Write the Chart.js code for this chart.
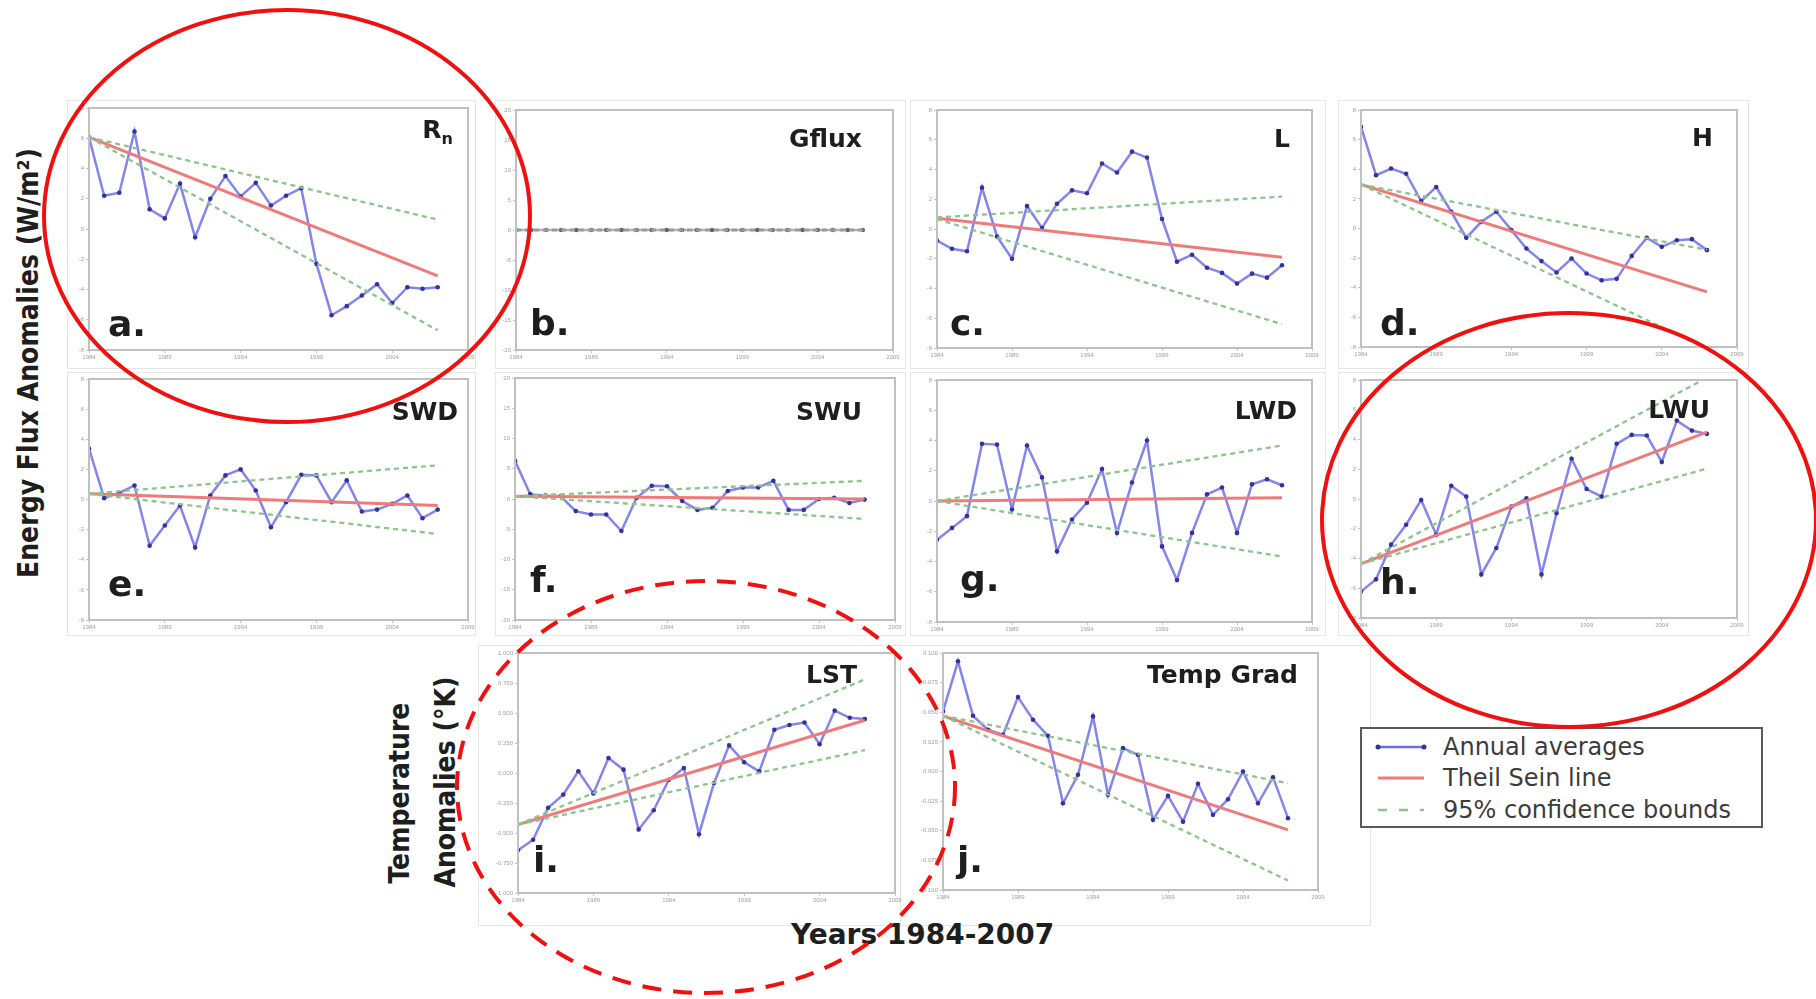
<!DOCTYPE html>
<html>
<head>
<meta charset="utf-8">
<script src="https://cdn.jsdelivr.net/npm/chart.js@4.4.1/dist/chart.umd.min.js"></script>
<style>
body { margin:0; width:1816px; height:999px; background:#fff; position:relative; overflow:hidden; font-family:"DejaVu Sans", sans-serif; }
canvas { position:absolute; }
.frame { position:absolute; border:1px solid #e6e6e6; }
.ttl { position:absolute; width:300px; text-align:right; font-weight:bold; font-size:25px; line-height:25px; color:#1e1e1e; white-space:nowrap; }
.ttl sub { font-size:16px; vertical-align:-6px; line-height:0; }
.let { position:absolute; font-weight:bold; font-size:36px; line-height:36px; color:#1e1e1e; }
.rot { position:absolute; transform:translate(-50%,-50%) rotate(-90deg); font-family:"DejaVu Sans Condensed","DejaVu Sans",sans-serif; font-weight:bold; font-size:28px; line-height:28px; white-space:nowrap; color:#1e1e1e; }
.xlab { position:absolute; font-weight:bold; font-size:28px; line-height:28px; color:#1e1e1e; white-space:nowrap; }
#legend { position:absolute; left:1360px; top:727px; width:399px; height:97px; border:2px solid #5a5a5a; background:#fff; }
#legend .row { position:absolute; left:0; height:30px; font-size:24px; line-height:30px; color:#3c3c3c; white-space:nowrap; }
#legend svg { position:absolute; left:12px; top:0; }
#legend span { position:absolute; left:81px; top:0; }
#marks { position:absolute; left:0; top:0; pointer-events:none; }
</style>
</head>
<body>

<div class="frame" style="left:67px;top:100px;width:407px;height:267px"></div>
<div class="frame" style="left:495px;top:100px;width:409px;height:267px"></div>
<div class="frame" style="left:910px;top:100px;width:414px;height:267px"></div>
<div class="frame" style="left:1338px;top:100px;width:409px;height:267px"></div>
<div class="frame" style="left:67px;top:372px;width:407px;height:262px"></div>
<div class="frame" style="left:495px;top:372px;width:409px;height:262px"></div>
<div class="frame" style="left:910px;top:372px;width:414px;height:262px"></div>
<div class="frame" style="left:1338px;top:372px;width:409px;height:262px"></div>
<div class="frame" style="left:478px;top:645px;width:421px;height:279px"></div>
<div class="frame" style="left:900px;top:645px;width:469px;height:279px"></div>

<div id="charts"></div>

<div class="ttl" style="left:153px;top:117px">R<sub>n</sub></div>
<div class="ttl" style="left:562px;top:126px">Gflux</div>
<div class="ttl" style="left:990px;top:126px">L</div>
<div class="ttl" style="left:1413px;top:125px">H</div>
<div class="ttl" style="left:158px;top:399px">SWD</div>
<div class="ttl" style="left:562px;top:399px">SWU</div>
<div class="ttl" style="left:997px;top:398px">LWD</div>
<div class="ttl" style="left:1410px;top:397px">LWU</div>
<div class="ttl" style="left:557px;top:662px">LST</div>
<div class="ttl" style="left:998px;top:662px">Temp Grad</div>

<div class="let" style="left:108px;top:306px">a.</div>
<div class="let" style="left:530px;top:305px">b.</div>
<div class="let" style="left:950px;top:305px">c.</div>
<div class="let" style="left:1380px;top:305px">d.</div>
<div class="let" style="left:108px;top:566px">e.</div>
<div class="let" style="left:530px;top:562px">f.</div>
<div class="let" style="left:960px;top:561px">g.</div>
<div class="let" style="left:1380px;top:564px">h.</div>
<div class="let" style="left:533px;top:842px">i.</div>
<div class="let" style="left:957px;top:842px">j.</div>

<div class="rot" style="left:29px;top:363px">Energy Flux Anomalies (W/m²)</div>
<div class="rot" style="left:400px;top:793px">Temperature</div>
<div class="rot" style="left:446px;top:782px">Anomalies (°K)</div>
<div class="xlab" style="left:791px;top:921px">Years 1984-2007</div>

<div id="legend">
  <div class="row" style="top:3px">
    <svg width="60" height="30"><line x1="4" y1="15" x2="50" y2="15" stroke="#6d6de6" stroke-width="2.5"/><circle cx="4" cy="15" r="2.5" fill="#33339a"/><circle cx="50" cy="15" r="2.5" fill="#33339a"/></svg>
    <span>Annual averages</span>
  </div>
  <div class="row" style="top:34px">
    <svg width="60" height="30"><line x1="4" y1="15" x2="50" y2="15" stroke="#f07a7a" stroke-width="3"/></svg>
    <span>Theil Sein line</span>
  </div>
  <div class="row" style="top:66px">
    <svg width="60" height="30"><line x1="4" y1="15" x2="50" y2="15" stroke="#8cc48c" stroke-width="2.5" stroke-dasharray="9,12"/></svg>
    <span>95% confidence bounds</span>
  </div>
</div>

<svg id="marks" width="1816" height="999">
  <ellipse cx="287" cy="216" rx="243" ry="206" fill="none" stroke="#f01010" stroke-width="4"/>
  <ellipse cx="1569" cy="520" rx="247" ry="207" fill="none" stroke="#f01010" stroke-width="4"/>
  <ellipse cx="706" cy="787" rx="249" ry="206" fill="none" stroke="#f01010" stroke-width="4" stroke-dasharray="19,12"/>
</svg>

<script>
// years and tick labels
const years = [1984, 1985, 1986, 1987, 1988, 1989, 1990, 1991, 1992, 1993, 1994, 1995,
               1996, 1997, 1998, 1999, 2000, 2001, 2002, 2003, 2004, 2005, 2006, 2007];
const yearTicks = [1984, 1989, 1994, 1999, 2004, 2009];
const fitYears = [1984, 2007];
const fluxTicks = [-8, -6, -4, -2, 0, 2, 4, 6, 8];
const wideFluxTicks = [-20, -15, -10, -5, 0, 5, 10, 15, 20];
const lstTicks = [-1, -0.75, -0.5, -0.25, 0, 0.25, 0.5, 0.75, 1];
const gradTicks = [-0.1, -0.075, -0.05, -0.025, 0, 0.025, 0.05, 0.075, 0.1];

// a. Rn
const rnAvg = [6.07, 2.2, 2.4, 6.45, 1.3, 0.7, 3.0, -0.55, 2.0, 3.5, 2.15, 3.05,
               1.55, 2.2, 2.7, -2.3, -5.7, -5.1, -4.4, -3.65, -4.9, -3.85, -3.95, -3.85];
const rnTheil = [6.07, -3.1];
const rnUpper = [6.07, 0.62];
const rnLower = [6.07, -6.7];

// b. Gflux
const gfluxAvg = [0, 0, 0, 0, 0, 0, 0, 0, 0, 0, 0, 0, 0, 0, 0, 0, 0, 0, 0, 0, 0, 0, 0, 0];
const gfluxTheil = [0, 0];
const gfluxUpper = [0, 0];
const gfluxLower = [0, 0];

// c. L
const lAvg = [-0.78, -1.33, -1.5, 2.78, -0.5, -2.0, 1.55, 0.07, 1.7, 2.6, 2.4, 4.4,
              3.8, 5.2, 4.8, 0.67, -2.2, -1.73, -2.6, -2.95, -3.67, -3.0, -3.27, -2.44];
const lTheil = [0.73, -1.9];
const lUpper = [0.78, 2.18];
const lLower = [0.67, -6.4];

// d. H
const hAvg = [6.87, 3.6, 4.05, 3.7, 1.85, 2.8, 1.13, -0.63, 0.45, 1.13, -0.11, -1.35,
              -2.2, -2.97, -2.03, -3.04, -3.5, -3.4, -1.85, -0.63, -1.24, -0.79, -0.72, -1.46];
const hTheil = [2.97, -4.28];
const hUpper = [2.97, -1.44];
const hLower = [2.97, -8.1];

// e. SWD
const swdAvg = [3.38, 0.09, 0.44, 0.93, -3.07, -1.73, -0.4, -3.18, 0.27, 1.6, 2.0, 0.6,
                -1.84, -0.18, 1.64, 1.6, -0.18, 1.27, -0.8, -0.67, -0.29, 0.27, -1.24, -0.67];
const swdTheil = [0.38, -0.4];
const swdUpper = [0.38, 2.27];
const swdLower = [0.38, -2.29];

// f. SWU
const swuAvg = [6.3, 0.8, 0.55, 0.45, -2.0, -2.55, -2.55, -5.3, 0.2, 2.2, 2.1, -0.33,
                -1.8, -1.45, 1.33, 1.9, 1.9, 3.0, -1.8, -1.8, 0, 0.2, -0.67, -0.1];
const swuTheil = [0.45, 0];
const swuUpper = [0.45, 3.0];
const swuLower = [0.45, -3.3];

// g. LWD
const lwdAvg = [-2.56, -1.78, -1.0, 3.78, 3.73, -0.56, 3.67, 1.56, -3.33, -1.22, -0.11, 2.11,
                -2.11, 1.22, 4.0, -3.0, -5.22, -2.11, 0.44, 0.89, -2.11, 1.11, 1.44, 1.04];
const lwdTheil = [0, 0.22];
const lwdUpper = [0, 3.67];
const lwdLower = [0, -3.67];

// h. LWU
const lwuAvg = [-6.22, -5.4, -3.07, -1.73, -0.07, -2.4, 0.89, 0.16, -5.07, -3.29, -0.51, 0.04,
                -5.07, -0.96, 2.71, 0.67, 0.16, 3.71, 4.31, 4.27, 2.49, 5.27, 4.6, 4.38];
const lwuTheil = [-4.36, 4.49];
const lwuUpper = [-4.36, 8.16];
const lwuLower = [-4.36, 2.04];

// i. LST
const lstAvg = [-0.644, -0.556, -0.29, -0.18, 0.014, -0.17, 0.125, 0.028, -0.47, -0.31, -0.056, 0.042,
                -0.51, -0.083, 0.23, 0.09, 0.014, 0.36, 0.40, 0.42, 0.24, 0.52, 0.46, 0.45];
const lstTheil = [-0.43, 0.44];
const lstUpper = [-0.43, 0.78];
const lstLower = [-0.43, 0.19];

// j. Temp Grad
const gradAvg = [0.0507, 0.093, 0.047, 0.0352, 0.031, 0.0628, 0.0437, 0.0301, -0.0268, -0.0028, 0.0465, -0.0197,
                 0.0197, 0.0141, -0.0408, -0.0206, -0.0423, -0.0104, -0.0366, -0.0234, 0.0, -0.0268, -0.0048, -0.0394];
const gradTheil = [0.047, -0.0493];
const gradUpper = [0.047, -0.0099];
const gradLower = [0.047, -0.092];

const panels = [
    {box: [89, 108, 468, 350], yw: 30, ticks: fluxTicks, avg: rnAvg, theil: rnTheil, upper: rnUpper, lower: rnLower},
    {box: [516, 110, 893, 350], yw: 30, ticks: wideFluxTicks, avg: gfluxAvg, theil: gfluxTheil, upper: gfluxUpper, lower: gfluxLower, flat: true},
    {box: [937, 110, 1312, 348], yw: 30, ticks: fluxTicks, avg: lAvg, theil: lTheil, upper: lUpper, lower: lLower},
    {box: [1361, 110, 1737, 347], yw: 30, ticks: fluxTicks, avg: hAvg, theil: hTheil, upper: hUpper, lower: hLower},
    {box: [89, 379, 468, 620], yw: 30, ticks: fluxTicks, avg: swdAvg, theil: swdTheil, upper: swdUpper, lower: swdLower},
    {box: [515, 378, 895, 620], yw: 30, ticks: wideFluxTicks, avg: swuAvg, theil: swuTheil, upper: swuUpper, lower: swuLower},
    {box: [937, 380, 1312, 622], yw: 30, ticks: fluxTicks, avg: lwdAvg, theil: lwdTheil, upper: lwdUpper, lower: lwdLower},
    {box: [1361, 380, 1737, 618], yw: 30, ticks: fluxTicks, avg: lwuAvg, theil: lwuTheil, upper: lwuUpper, lower: lwuLower},
    {box: [518, 653, 895, 893], yw: 40, ticks: lstTicks, avg: lstAvg, theil: lstTheil, upper: lstUpper, lower: lstLower, dec: 3},
    {box: [943, 653, 1318, 890], yw: 40, ticks: gradTicks, avg: gradAvg, theil: gradTheil, upper: gradUpper, lower: gradLower, dec: 3}
];

const framePlugin = {
    id: 'frame',
    afterDraw(chart) {
        const {ctx, chartArea: a} = chart;
        ctx.save();
        ctx.strokeStyle = '#c0c0c0';
        ctx.lineWidth = 2;
        ctx.strokeRect(a.left, a.top, a.right - a.left, a.bottom - a.top);
        ctx.restore();
    }
};

const PT = 10, PR = 12, XH = 14;
const holder = document.getElementById('charts');

panels.forEach(function (p) {
    const [l, t, r, b] = p.box;
    const cv = document.createElement('canvas');
    cv.width = (r - l) + p.yw + PR;
    cv.height = PT + (b - t) + XH;
    cv.style.left = (l - p.yw) + 'px';
    cv.style.top = (t - PT) + 'px';
    holder.appendChild(cv);

    const pts = arr => arr.map((v, i) => ({x: years[i], y: v}));
    const fit = arr => arr.map((v, i) => ({x: fitYears[i], y: v}));
    // gflux is flat: everything sits on zero and reads as a grey dotted line
    const green = {borderColor: p.flat ? '#9a9a9a' : '#8cc48c', borderWidth: 2.3, borderDash: [5, 4], pointRadius: 0};

    new Chart(cv, {
        type: 'line',
        data: {
            datasets: [
                Object.assign({label: 'lower', data: fit(p.lower)}, green),
                Object.assign({label: 'upper', data: fit(p.upper)}, green),
                {label: 'Theil Sein line', data: fit(p.theil), borderColor: p.flat ? 'rgba(0,0,0,0)' : '#f07a7a', borderWidth: 3, pointRadius: 0},
                {label: 'Annual averages', data: pts(p.avg), borderColor: p.flat ? 'rgba(120,120,150,0.6)' : 'rgba(110,110,235,0.85)', borderWidth: 2.5,
                    pointRadius: 2.3, pointBackgroundColor: p.flat ? '#666' : '#33339a', pointBorderWidth: 0}
            ]
        },
        options: {
            responsive: false,
            animation: false,
            devicePixelRatio: 1,
            layout: {padding: {top: PT, right: PR, left: 0, bottom: 0}},
            plugins: {legend: {display: false}, tooltip: {enabled: false}},
            scales: {
                x: {
                    type: 'linear', min: yearTicks[0], max: yearTicks[yearTicks.length - 1],
                    afterBuildTicks: s => { s.ticks = yearTicks.map(v => ({value: v})); },
                    afterFit: s => { s.height = XH; },
                    ticks: {font: {size: 6}, color: '#a0a0a0', maxRotation: 0, autoSkip: false, padding: 1,
                        callback: v => String(v)},
                    grid: {drawOnChartArea: false, tickLength: 3, color: '#c4c4c4'},
                    border: {display: false}
                },
                y: {
                    min: p.ticks[0], max: p.ticks[p.ticks.length - 1],
                    afterBuildTicks: s => { s.ticks = p.ticks.map(v => ({value: v})); },
                    afterFit: s => { s.width = p.yw; },
                    ticks: {font: {size: 6}, color: '#a0a0a0', autoSkip: false, padding: 2,
                        callback: v => p.dec ? v.toFixed(p.dec) : String(v)},
                    grid: {drawOnChartArea: false, tickLength: 3, color: '#c4c4c4'},
                    border: {display: false}
                }
            }
        },
        plugins: [framePlugin]
    });
});
</script>
</body>
</html>
